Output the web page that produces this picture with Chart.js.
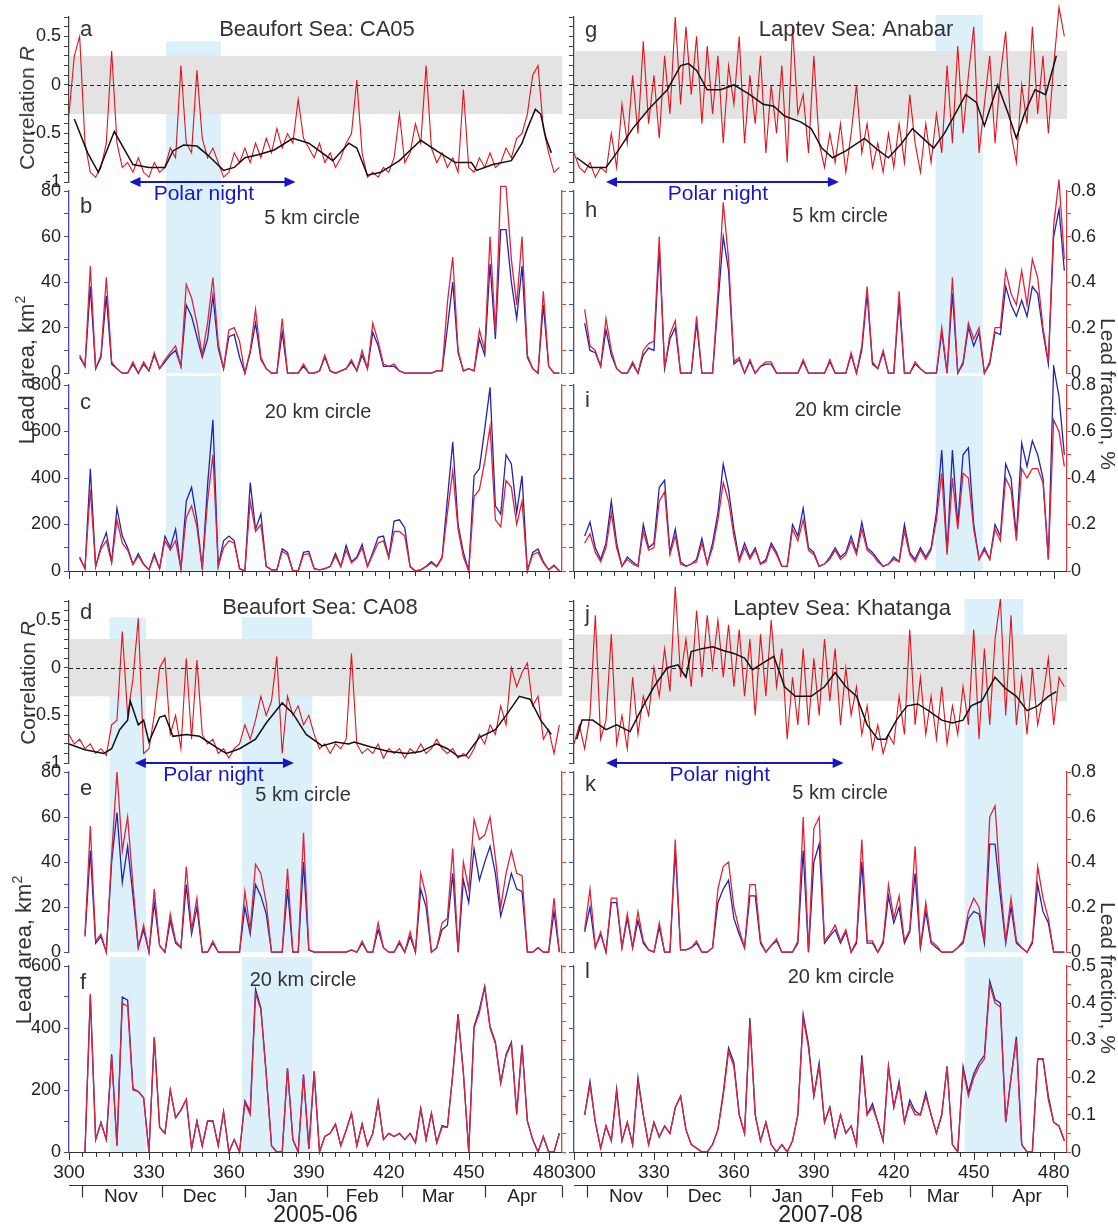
<!DOCTYPE html>
<html>
<head>
<meta charset="utf-8">
<script src="https://cdn.jsdelivr.net/npm/chart.js@4.4.1/dist/chart.umd.min.js"></script>
<style>
  body { margin: 0; background: #fff; width: 1118px; height: 1226px; position: relative; overflow: hidden;
         font-family: 'Liberation Sans', Arial, sans-serif; }
  canvas { position: absolute; }
  .vt, .vr { position: absolute; white-space: nowrap; color: #333; z-index: 5; }
  .vt { transform: translate(-50%, -50%) rotate(-90deg); }
  .vr { transform: translate(-50%, -50%) rotate(90deg); }
  .vt sup { font-size: 14px; }
</style>
</head>
<body>
<div class="vt" style="left:27px;top:108px;font-size:21px">Correlation <i>R</i></div>
<div class="vt" style="left:28px;top:683px;font-size:21px">Correlation <i>R</i></div>
<div class="vt" style="left:26px;top:370px;font-size:22px">Lead area, km<sup>2</sup></div>
<div class="vt" style="left:23px;top:950px;font-size:22px">Lead area, km<sup>2</sup></div>
<div class="vr" style="left:1108px;top:394px;font-size:21px">Lead fraction, %</div>
<div class="vr" style="left:1108px;top:978px;font-size:21px">Lead fraction, %</div>
<script>
const FONT = "'Liberation Sans', Arial, sans-serif";
Chart.defaults.font.family = FONT;

// day of year counted from 1 Jan of the first year, every 2nd day
const days = Array.from({length: 93}, (_, i) => 300 + 2 * i);

// ---- Beaufort Sea CA05 ----
const aCorr = [
  -0.3, 0.3, 0.5, -0.6, -0.9, -0.95, -0.85, -0.6, 0.35, -0.6,
  -0.85, -0.8, -0.9, -0.75, -0.9, -0.95, -0.8, -0.9, -0.85, -0.65,
  -0.75, 0.2, -0.6, -0.7, 0.15, -0.55, -0.75, -0.65, -0.8, -0.95,
  -0.9, -0.7, -0.8, -0.65, -0.8, -0.6, -0.75, -0.55, -0.7, -0.45,
  -0.65, -0.5, -0.6, -0.15, -0.55, -0.65, -0.75, -0.6, -0.8, -0.7,
  -0.85, -0.75, -0.6, -0.5, 0.05, -0.7, -0.95, -0.9, -0.95, -0.85,
  -0.9, -0.75, -0.3, -0.8, -0.7, -0.4, -0.6, 0.2, -0.65, -0.8,
  -0.7, -0.85, -0.75, -0.9, -0.05, -0.85, -0.9, -0.75, -0.85, -0.7,
  -0.85, -0.8, -0.65, -0.75, -0.55, -0.5, -0.3, 0.1, 0.2, -0.45,
  -0.7, -0.9, -0.85];
const aSmoothDays = [302, 307, 311, 317, 324, 330, 336, 339, 343, 348,
  352, 358, 362, 366, 371, 377, 384, 390, 395, 399,
  405, 408, 412, 417, 424, 432, 438, 445, 451, 453,
  459, 466, 470, 472, 475, 477, 479, 481];
const aSmooth = [-0.35, -0.7, -0.9, -0.48, -0.82, -0.85, -0.85, -0.68, -0.62, -0.63,
  -0.72, -0.88, -0.85, -0.75, -0.72, -0.67, -0.55, -0.6, -0.7, -0.78,
  -0.6, -0.65, -0.93, -0.9, -0.78, -0.57, -0.68, -0.8, -0.8, -0.88,
  -0.82, -0.78, -0.6, -0.45, -0.25, -0.3, -0.55, -0.7];
const bRed = [
  null, null, 8, 3, 47, 2, 8, 42, 5, 2,
  0, 0, 5, 0, 5, 1, 9, 2, 6, 9,
  12, 3, 39, 33, 22, 8, 22, 42, 13, 2,
  19, 20, 14, 0, 10, 28, 7, 2, 0, 0,
  24, 0, 0, 0, 4, 0, 0, 1, 8, 1,
  0, 1, 2, 6, 1, 10, 2, 22, 14, 4,
  3, 4, 1, 0, 0, 0, 0, 0, 0, 1,
  1, 31, 51, 10, 1, 2, 1, 19, 10, 60,
  18, 82, 82, 50, 30, 60, 8, 2, 0, 36,
  3, 0, 0];
const bBlue = [
  null, null, 7, 3, 38, 2, 7, 34, 4, 2,
  0, 0, 4, 0, 4, 1, 8, 2, 5, 8,
  10, 3, 30, 25, 16, 7, 15, 34, 11, 2,
  16, 17, 7, 0, 9, 22, 6, 2, 0, 0,
  18, 0, 0, 0, 3, 0, 0, 1, 7, 1,
  0, 1, 2, 5, 1, 8, 2, 18, 12, 3,
  3, 3, 1, 0, 0, 0, 0, 0, 0, 1,
  1, 20, 40, 9, 1, 2, 1, 15, 8, 48,
  15, 63, 63, 40, 24, 47, 7, 2, 0, 30,
  3, 0, 0];
const cRed = [
  null, null, 55, 10, 350, 18, 95, 130, 35, 220,
  120, 90, 28, 65, 28, 5, 65, 10, 130, 90,
  130, 10, 230, 280, 190, 10, 300, 500, 20, 100,
  130, 120, 10, 0, 300, 170, 200, 20, 5, 5,
  85, 70, 0, 0, 70, 75, 10, 5, 10, 18,
  65, 18, 90, 35, 55, 100, 18, 70, 120, 130,
  55, 170, 170, 150, 18, 0, 5, 18, 35, 18,
  55, 250, 430, 180, 60, 0, 320, 350, 470, 620,
  220, 190, 390, 360, 200, 300, 0, 70, 80, 35,
  5, 22, 0];
const cBlue = [
  null, null, 60, 10, 440, 20, 105, 165, 40, 270,
  150, 100, 30, 75, 30, 5, 75, 10, 150, 100,
  180, 10, 300, 360, 220, 10, 370, 650, 20, 130,
  150, 130, 10, 0, 380, 180, 245, 20, 5, 5,
  95, 80, 0, 0, 80, 85, 10, 5, 10, 20,
  75, 20, 110, 40, 60, 115, 20, 80, 145, 150,
  60, 215, 220, 185, 20, 0, 5, 20, 40, 20,
  60, 310, 555, 200, 80, 0, 410, 440, 610, 790,
  280, 245, 500, 460, 250, 410, 0, 80, 95, 40,
  5, 25, 0];

// ---- Beaufort Sea CA08 ----
const dCorr = [
  -0.7, -0.8, -0.75, -0.85, -0.8, -0.9, -0.85, -0.92, -0.6, -0.55,
  0.38, -0.5, -0.12, 0.52, -0.9, -0.85, -0.5, 0.0, 0.1, -0.7,
  -0.5, -0.85, 0.1, -0.75, 0.08, -0.7, -0.8, -0.75, -0.9, -0.85,
  -0.95, -0.85, -0.8, -0.6, -0.75, -0.55, -0.3, -0.5, -0.35, 0.12,
  -0.9, -0.3, -0.5, -0.4, -0.6, -0.5, -0.7, -0.85, -0.8, -0.9,
  -0.8, -0.85, -0.75, 0.15, -0.8, -0.9, -0.85, -0.9, -0.8, -0.95,
  -0.85, -0.9, -0.85, -0.95, -0.85, -0.9, -0.8, -0.9, -0.85, -0.75,
  -0.85, -0.9, -0.85, -0.95, -0.9, -0.95, -0.85, -0.7, -0.8, -0.6,
  -0.7, -0.4, -0.6, 0.0, -0.2, -0.05, 0.05, -0.4, -0.3, -0.75,
  -0.65, -0.9, -0.6];
const dSmoothDays = [300, 306, 313, 316, 319, 322, 323, 326, 328, 330,
  334, 336, 339, 344, 349, 355, 359, 364, 370, 374,
  380, 384, 389, 395, 400, 405, 407, 413, 420, 427,
  432, 438, 442, 446, 449, 454, 460, 464, 469, 473,
  477, 481];
const dSmooth = [-0.8, -0.86, -0.9, -0.85, -0.65, -0.55, -0.35, -0.6, -0.55, -0.78,
  -0.52, -0.5, -0.72, -0.7, -0.72, -0.83, -0.9, -0.85, -0.75, -0.58,
  -0.37, -0.48, -0.7, -0.82, -0.78, -0.8, -0.78, -0.83, -0.88, -0.9,
  -0.88, -0.8, -0.85, -0.93, -0.92, -0.73, -0.65, -0.5, -0.3, -0.33,
  -0.55, -0.7];
const eRed = [
  null, null, null, 8, 56, 5, 8, 0, 43, 80,
  45, 60, 30, 2, 12, 0, 28, 3, 0, 17,
  5, 2, 38, 10, 24, 0, 0, 5, 0, 0,
  0, 0, 0, 27, 10, 39, 35, 22, 0, 0,
  0, 37, 0, 0, 53, 1, 0, 0, 0, 0,
  0, 0, 0, 1, 0, 5, 0, 0, 13, 2,
  0, 0, 5, 0, 9, 0, 35, 25, 0, 2,
  13, 15, 46, 0, 40, 28, 59, 50, 52, 60,
  42, 20, 35, 45, 35, 34, 0, 0, 2, 0,
  0, 24, 0];
const eBlue = [
  null, null, null, 7, 45, 4, 7, 0, 40, 62,
  31, 47, 25, 2, 10, 0, 22, 3, 0, 14,
  4, 2, 30, 8, 20, 0, 0, 4, 0, 0,
  0, 0, 0, 20, 8, 30, 25, 17, 0, 0,
  0, 28, 0, 0, 40, 1, 0, 0, 0, 0,
  0, 0, 0, 1, 0, 4, 0, 0, 10, 2,
  0, 0, 4, 0, 7, 0, 28, 20, 0, 2,
  10, 12, 35, 0, 32, 22, 46, 32, 40, 47,
  35, 16, 25, 35, 28, 27, 0, 0, 2, 0,
  0, 18, 0];
const fRed = [
  null, null, null, 0, 510, 40, 95, 40, 310, 20,
  480, 470, 200, 195, 175, 0, 370, 80, 60, 200,
  110, 135, 170, 10, 100, 20, 100, 100, 20, 130,
  0, 40, 0, 160, 120, 510, 460, 250, 20, 0,
  0, 270, 40, 0, 245, 10, 260, 0, 50, 60,
  90, 20, 70, 125, 20, 90, 20, 60, 160, 40,
  60, 50, 60, 40, 60, 30, 140, 40, 125, 30,
  80, 80, 250, 440, 255, 0, 400, 450, 530, 400,
  350, 220, 310, 350, 120, 340, 100, 40, 0, 50,
  0, 0, 60];
const fBlue = [
  null, null, null, 0, 505, 40, 95, 40, 315, 20,
  500, 490, 205, 195, 175, 0, 370, 80, 60, 200,
  110, 135, 170, 10, 100, 20, 100, 100, 20, 130,
  0, 40, 0, 165, 130, 525, 465, 255, 20, 0,
  0, 270, 40, 0, 250, 10, 260, 0, 50, 60,
  90, 20, 70, 125, 20, 90, 20, 60, 165, 40,
  60, 50, 60, 40, 60, 30, 140, 40, 125, 30,
  85, 80, 250, 445, 255, 0, 405, 460, 535, 405,
  355, 225, 315, 355, 125, 345, 100, 40, 0, 50,
  0, 0, 60];

// ---- Laptev Sea Anabar ----
const gCorr = [
  -0.7, -0.85, -0.9, -0.8, -0.95, -0.85, -0.9, -0.5, -0.85, -0.2,
  -0.6, 0.1, -0.5, 0.45, -0.4, 0.1, -0.55, 0.3, -0.3, 0.7,
  -0.2, 0.6, -0.1, 0.5, -0.4, 0.4, -0.3, 0.3, -0.6, 0.2,
  -0.2, 0.5, -0.6, 0.1, -0.4, 0.3, -0.7, 0.0, -0.5, 0.2,
  -0.8, 0.6, -0.3, -0.1, -0.7, 0.3, -0.6, -0.85, -0.5, -0.8,
  -0.4, -0.9, -0.5, 0.0, -0.7, -0.4, -0.85, -0.6, -0.9, -0.5,
  -0.85, -0.4, -0.8, -0.1, -0.6, -0.9, -0.4, -0.8, -0.3, -0.7,
  0.2, -0.6, 0.4, -0.5, 0.1, 0.6, -0.7, -0.2, 0.3, -0.6,
  0.1, 0.55, -0.5, -0.8, 0.0, -0.4, 0.6, -0.3, 0.3, -0.5,
  0.2, 0.8, 0.5];
const gSmoothDays = [301, 306, 312, 316, 322, 328, 335, 340, 343, 346,
  350, 355, 360, 366, 371, 375, 379, 385, 389, 393,
  397, 402, 409, 414, 418, 423, 427, 431, 435, 439,
  443, 447, 451, 454, 459, 463, 466, 469, 473, 477,
  481];
const gSmooth = [-0.75, -0.85, -0.85, -0.7, -0.45, -0.25, -0.05, 0.2, 0.22, 0.15,
  -0.05, -0.05, 0.0, -0.1, -0.2, -0.22, -0.32, -0.38, -0.45, -0.65,
  -0.75, -0.68, -0.55, -0.67, -0.75, -0.6, -0.45, -0.55, -0.65, -0.5,
  -0.3, -0.1, -0.18, -0.42, 0.0, -0.3, -0.55, -0.3, -0.05, -0.1,
  0.3];
// lead fraction, %
const hRed = [
  null, null, 0.28, 0.12, 0.1, 0.03, 0.24, 0.1, 0.02, 0,
  0, 0.05, 0, 0.1, 0.13, 0.14, 0.6, 0.02, 0.17, 0.23,
  0, 0, 0, 0.25, 0, 0, 0, 0.35, 0.75, 0.5,
  0.05, 0.07, 0, 0.06, 0, 0.03, 0.05, 0.05, 0, 0,
  0, 0, 0, 0.06, 0, 0, 0, 0, 0.06, 0,
  0, 0, 0.09, 0, 0.12, 0.38, 0.05, 0.02, 0.1, 0,
  0, 0.36, 0, 0, 0.05, 0.02, 0, 0, 0, 0.2,
  0, 0.42, 0, 0.05, 0.22, 0.15, 0.2, 0, 0.05, 0.2,
  0.2, 0.45, 0.35, 0.3, 0.45, 0.3, 0.5, 0.42, 0.2, 0.05,
  0.65, 0.85, 0.5];
const hBlue = [
  null, null, 0.22, 0.1, 0.09, 0.03, 0.19, 0.08, 0.02, 0,
  0, 0.04, 0, 0.08, 0.11, 0.1, 0.55, 0.02, 0.15, 0.2,
  0, 0, 0, 0.22, 0, 0, 0, 0.3, 0.6, 0.45,
  0.04, 0.06, 0, 0.05, 0, 0.03, 0.04, 0.04, 0, 0,
  0, 0, 0, 0.05, 0, 0, 0, 0, 0.05, 0,
  0, 0, 0.08, 0, 0.1, 0.35, 0.04, 0.02, 0.09, 0,
  0, 0.32, 0, 0, 0.04, 0.02, 0, 0, 0, 0.18,
  0, 0.35, 0, 0.04, 0.2, 0.12, 0.18, 0, 0.04, 0.18,
  0.17, 0.38, 0.3, 0.25, 0.32, 0.25, 0.38, 0.35, 0.18, 0.04,
  0.6, 0.72, 0.45];
const iRed = [
  null, null, 0.12, 0.16, 0.08, 0.04, 0.1, 0.25, 0.1, 0.02,
  0.05, 0.03, 0.02, 0.17, 0.09, 0.1, 0.3, 0.34, 0.07, 0.15,
  0.03, 0.02, 0.03, 0.04, 0.12, 0.03, 0.1, 0.22, 0.38, 0.3,
  0.15, 0.04, 0.1, 0.05, 0.09, 0.03, 0.04, 0.11, 0.07, 0.02,
  0.02, 0.18, 0.13, 0.22, 0.09, 0.07, 0.02, 0.03, 0.05, 0.09,
  0.05, 0.07, 0.13, 0.07, 0.18, 0.09, 0.07, 0.04, 0.02, 0.03,
  0.05, 0.04, 0.17, 0.07, 0.04, 0.09, 0.05, 0.09, 0.22, 0.42,
  0.07, 0.4, 0.18, 0.42, 0.4, 0.18, 0.05, 0.09, 0.05, 0.18,
  0.13, 0.4, 0.35, 0.13, 0.44, 0.4, 0.44, 0.44, 0.38, 0.05,
  0.65, 0.6, 0.45];
const iBlue = [
  null, null, 0.15, 0.21, 0.1, 0.05, 0.12, 0.3, 0.12, 0.02,
  0.06, 0.04, 0.02, 0.2, 0.1, 0.12, 0.36, 0.39, 0.08, 0.18,
  0.04, 0.02, 0.03, 0.05, 0.14, 0.03, 0.12, 0.25, 0.46, 0.35,
  0.18, 0.05, 0.12, 0.06, 0.1, 0.03, 0.05, 0.12, 0.08, 0.02,
  0.02, 0.2, 0.15, 0.27, 0.1, 0.08, 0.02, 0.03, 0.06, 0.1,
  0.06, 0.08, 0.15, 0.08, 0.21, 0.1, 0.08, 0.05, 0.02, 0.03,
  0.06, 0.04, 0.2, 0.08, 0.05, 0.1, 0.06, 0.1, 0.25, 0.52,
  0.08, 0.52, 0.2, 0.5, 0.53, 0.2, 0.05, 0.1, 0.05, 0.2,
  0.15, 0.46, 0.4, 0.15, 0.55, 0.45, 0.56, 0.5, 0.4, 0.05,
  0.88, 0.75, 0.5];

// ---- Laptev Sea Khatanga ----
const jCorr = [
  -0.8, -0.6, -0.85, -0.5, 0.55, -0.75, -0.55, 0.35, -0.8, -0.5,
  -0.85, -0.1, -0.7, -0.3, -0.5, 0.0, -0.3, 0.2, -0.25, 0.85,
  -0.1, 0.3, -0.2, 0.6, -0.1, 0.55, 0.0, 0.5, -0.1, 0.45,
  -0.2, 0.4, -0.3, 0.3, -0.5, 0.35, -0.3, 0.5, -0.2, 0.2,
  -0.75, -0.1, -0.6, 0.2, -0.6, 0.1, -0.5, 0.3, -0.35, 0.2,
  -0.6, 0.0, -0.5, -0.2, -0.7, -0.4, -0.85, -0.6, -0.9, -0.7,
  -0.8, -0.3, -0.7, 0.4, -0.6, -0.1, -0.7, -0.3, -0.75, -0.2,
  -0.8, -0.4, -0.7, -0.2, -0.6, 0.4, -0.75, 0.2, -0.6, 0.3,
  0.72, -0.5, 0.55, -0.6, -0.1, -0.7, 0.0, -0.6, -0.3, 0.1,
  -0.6, -0.1, -0.2];
const jSmoothDays = [301, 303, 307, 312, 316, 321, 326, 330, 335, 339,
  342, 344, 348, 352, 356, 360, 364, 367, 371, 375,
  379, 383, 389, 394, 398, 402, 406, 410, 414, 417,
  421, 425, 429, 433, 438, 442, 446, 449, 453, 458,
  462, 466, 470, 474, 478, 481];
const jSmooth = [-0.75, -0.55, -0.55, -0.65, -0.6, -0.67, -0.4, -0.2, 0.0, 0.03,
  -0.1, 0.17, 0.2, 0.22, 0.18, 0.15, 0.1, -0.02, 0.05, 0.12,
  -0.2, -0.3, -0.3, -0.2, -0.05, -0.2, -0.3, -0.6, -0.75, -0.75,
  -0.55, -0.4, -0.38, -0.45, -0.55, -0.58, -0.55, -0.4, -0.35, -0.1,
  -0.22, -0.3, -0.45, -0.4, -0.3, -0.25];
const kRed = [
  null, null, 0.1, 0.28, 0.02, 0.09, 0.0, 0.24, 0.24, 0.02,
  0.17, 0.02, 0.18, 0.05, 0.01, 0.0, 0.13, 0.0, 0.0, 0.5,
  0.01, 0.01, 0.02, 0.05, 0.0, 0.0, 0.02, 0.28, 0.38, 0.4,
  0.2, 0.1, 0.02, 0.3, 0.3, 0.05, 0.0, 0.03, 0.06, 0.0,
  0.0, 0.0, 0.05, 0.6, 0.0, 0.55, 0.6, 0.05, 0.08, 0.12,
  0.05, 0.1, 0.0, 0.05, 0.5, 0.05, 0.05, 0.0, 0.05, 0.3,
  0.15, 0.25, 0.05, 0.1, 0.47, 0.02, 0.22, 0.05, 0.03, 0.0,
  0.0, 0.0, 0.02, 0.05, 0.18, 0.24, 0.2, 0.05, 0.6, 0.65,
  0.3, 0.05, 0.24, 0.05, 0.02, 0.0, 0.05, 0.38, 0.24, 0.15,
  0.0, 0.0, 0.0];
const kBlue = [
  null, null, 0.09, 0.2, 0.02, 0.08, 0.0, 0.22, 0.22, 0.02,
  0.15, 0.02, 0.14, 0.04, 0.01, 0.0, 0.11, 0.0, 0.0, 0.45,
  0.01, 0.01, 0.02, 0.04, 0.0, 0.0, 0.02, 0.22, 0.28, 0.32,
  0.15, 0.08, 0.02, 0.25, 0.25, 0.04, 0.0, 0.03, 0.05, 0.0,
  0.0, 0.0, 0.04, 0.45, 0.0, 0.4, 0.48, 0.04, 0.07, 0.1,
  0.04, 0.09, 0.0, 0.04, 0.4, 0.04, 0.04, 0.0, 0.04, 0.25,
  0.13, 0.2, 0.04, 0.09, 0.35, 0.02, 0.18, 0.04, 0.02, 0.0,
  0.0, 0.0, 0.02, 0.04, 0.15, 0.18, 0.17, 0.04, 0.48, 0.48,
  0.25, 0.04, 0.2, 0.04, 0.02, 0.0, 0.04, 0.3, 0.18, 0.13,
  0.0, 0.0, 0.0];
const lRed = [
  null, null, 0.1, 0.18, 0.08, 0.01, 0.07, 0.03, 0.16, 0.03,
  0.08, 0.02, 0.19, 0.1, 0.02, 0.08, 0.04, 0.07, 0.05, 0.12,
  0.15, 0.06, 0.02, 0.01, 0.0, 0.0, 0.02, 0.06, 0.15, 0.27,
  0.23, 0.1, 0.05, 0.35, 0.1, 0.03, 0.08, 0.02, 0.0, 0.02,
  0.0, 0.03, 0.1, 0.36, 0.28, 0.15, 0.23, 0.08, 0.12, 0.04,
  0.1, 0.05, 0.07, 0.02, 0.25, 0.1, 0.12, 0.08, 0.03, 0.23,
  0.12, 0.18, 0.08, 0.13, 0.1, 0.1, 0.15, 0.1, 0.05, 0.1,
  0.23, 0.02, 0.0, 0.22, 0.15, 0.2, 0.23, 0.25, 0.45, 0.4,
  0.39, 0.08, 0.2, 0.3, 0.02, 0.0, 0.0, 0.25, 0.25, 0.14,
  0.08, 0.07, 0.03];
const lBlue = [
  null, null, 0.1, 0.19, 0.08, 0.01, 0.07, 0.03, 0.17, 0.03,
  0.08, 0.02, 0.2, 0.1, 0.02, 0.08, 0.04, 0.07, 0.05, 0.12,
  0.15, 0.06, 0.02, 0.01, 0.0, 0.0, 0.02, 0.06, 0.16, 0.28,
  0.24, 0.1, 0.05, 0.36, 0.1, 0.03, 0.08, 0.02, 0.0, 0.02,
  0.0, 0.03, 0.1, 0.37, 0.29, 0.15, 0.24, 0.08, 0.12, 0.04,
  0.1, 0.05, 0.07, 0.02, 0.26, 0.1, 0.13, 0.08, 0.03, 0.23,
  0.12, 0.19, 0.08, 0.14, 0.11, 0.1, 0.16, 0.1, 0.05, 0.1,
  0.23, 0.02, 0.0, 0.23, 0.16, 0.21, 0.24, 0.26, 0.46, 0.41,
  0.4, 0.08, 0.2, 0.31, 0.02, 0.0, 0.0, 0.25, 0.25, 0.15,
  0.08, 0.07, 0.03];

// shaded periods (day ranges)
const bandsTL = [[336.4, 357]];
const bandsBL = [[315.2, 328.9], [364.9, 391.3]];
const bandsTR = [[435.7, 453.4]];
const bandsBR = [[446.6, 468.6]];

// axis labels
const xTickLabels = [300, 330, 360, 390, 420, 450, 480];
const monthNames = ['Nov', 'Dec', 'Jan', 'Feb', 'Mar', 'Apr'];
const monthStartsL = [305, 335, 366, 397, 425, 456];
const monthStartsR = [305, 335, 366, 397, 426, 457];
const monthLabelDays = [319.5, 349, 380, 410, 438.5, 470];

function pts(xs, ys) { return xs.map((x, i) => ({x: x, y: ys[i]})); }
function isMult(v, s) { return Math.abs(v / s - Math.round(v / s)) < 1e-6; }
function fmt(v) { return String(Math.round(v * 100) / 100); }

const panels = [
  {id: 'a', col: 'L', kind: 'corr', top: 17, bottom: 182, pb: 26, title: 'Beaufort Sea: CA05', tx: 248, ty: 19, ly: 19,
   corr: aCorr, sd: aSmoothDays, sv: aSmooth, gray: 0.3, bands: bandsTL, bandTop: 0.45, night: [322.7, 385, 350.6]},
  {id: 'b', col: 'L', kind: 'lead', top: 191, bottom: 375, pb: 12, title: '5 km circle', tx: 243, ty: 33, ly: 22,
   red: bRed, blue: bBlue, area: [80, 10, 20], frac: [0.8, 0.1, 0.2], bands: bandsTL},
  {id: 'c', col: 'L', kind: 'lead', top: 385, bottom: 571, pb: 16, title: '20 km circle', tx: 249, ty: 33, ly: 24,
   red: cRed, blue: cBlue, area: [800, 100, 200], frac: [0.8, 0.1, 0.2], bands: bandsTL, xticks: true},
  {id: 'd', col: 'L', kind: 'corr', top: 601, bottom: 763, pb: 26, title: 'Beaufort Sea: CA08', tx: 251, ty: 13, ly: 18,
   corr: dCorr, sd: dSmoothDays, sv: dSmooth, gray: 0.3, bands: bandsBL, bandTop: 0.53, night: [324.7, 384.4, 354.2]},
  {id: 'e', col: 'L', kind: 'lead', top: 772, bottom: 954, pb: 12, title: '5 km circle', tx: 234, ty: 29, ly: 23,
   red: eRed, blue: eBlue, area: [80, 10, 20], frac: [0.8, 0.1, 0.2], bands: bandsBL},
  {id: 'f', col: 'L', kind: 'lead', top: 966, bottom: 1152, pb: 74, title: '20 km circle', tx: 234, ty: 20, ly: 23,
   red: fRed, blue: fBlue, area: [600, 100, 200], frac: [0.5, 0.05, 0.1], bands: bandsBL, xticks: true, season: '2005-06'},
  {id: 'g', col: 'R', kind: 'corr', top: 17, bottom: 182, pb: 26, title: 'Laptev Sea: Anabar', tx: 282, ty: 19, ly: 20,
   corr: gCorr, sd: gSmoothDays, sv: gSmooth, gray: 0.35, bands: bandsTR, bandTop: null, night: [312, 399.4, 354]},
  {id: 'h', col: 'R', kind: 'lead', top: 191, bottom: 375, pb: 12, title: '5 km circle', tx: 266, ty: 31, ly: 26,
   red: hRed, blue: hBlue, area: [80, 10, 20], frac: [0.8, 0.1, 0.2], bands: bandsTR},
  {id: 'i', col: 'R', kind: 'lead', top: 385, bottom: 571, pb: 16, title: '20 km circle', tx: 274, ty: 31, ly: 22,
   red: iRed, blue: iBlue, area: [800, 100, 200], frac: [0.8, 0.1, 0.2], bands: bandsTR, xticks: true},
  {id: 'j', col: 'R', kind: 'corr', top: 601, bottom: 763, pb: 26, title: 'Laptev Sea: Khatanga', tx: 268, ty: 14, ly: 20,
   corr: jCorr, sd: jSmoothDays, sv: jSmooth, gray: 0.35, bands: bandsBR, bandTop: null, night: [312, 401.2, 354.7]},
  {id: 'k', col: 'R', kind: 'lead', top: 772, bottom: 954, pb: 12, title: '5 km circle', tx: 266, ty: 27, ly: 19,
   red: kRed, blue: kBlue, area: [80, 10, 20], frac: [0.8, 0.1, 0.2], bands: bandsBR},
  {id: 'l', col: 'R', kind: 'lead', top: 966, bottom: 1152, pb: 74, title: '20 km circle', tx: 267, ty: 17, ly: 12,
   red: lRed, blue: lBlue, area: [600, 100, 200], frac: [0.5, 0.05, 0.1], bands: bandsBR, xticks: true, season: '2007-08'}
];

function yAxis(position, min, max, step, labelStep, show, color, width) {
  const right = position === 'right';
  return {
    type: 'linear', position: position, min: min, max: max,
    afterFit: s => { s.width = width; },
    border: {display: true, color: color, width: 1.3},
    grid: {drawOnChartArea: false, drawTicks: true, tickLength: right ? 4 : 5, color: color, lineWidth: 1},
    ticks: {stepSize: step, autoSkip: false, padding: right ? 0 : 3, color: '#222', font: {size: 18},
            callback: v => (show && isMult(v, labelStep)) ? fmt(v) : ''}
  };
}

function deco(p) {
  return {
    id: 'deco',
    beforeDatasetsDraw(chart) {
      const {ctx, chartArea: ca, scales} = chart;
      const x = scales.x;
      ctx.save();
      ctx.fillStyle = '#dcf0fa';
      p.bands.forEach(b => {
        let yTop = ca.top - 9;
        if (p.kind === 'corr') yTop = p.bandTop == null ? ca.top - 2 : scales.yA.getPixelForValue(p.bandTop);
        const x0 = x.getPixelForValue(b[0]), x1 = x.getPixelForValue(b[1]);
        ctx.fillRect(x0, yTop, x1 - x0, ca.bottom - yTop);
      });
      if (p.kind === 'corr') {
        const y = scales.yA;
        const g0 = y.getPixelForValue(p.gray), g1 = y.getPixelForValue(-p.gray);
        ctx.fillStyle = '#e3e3e3';
        ctx.fillRect(ca.left + 1, g0, ca.right - ca.left - 1, g1 - g0);
        ctx.strokeStyle = '#222';
        ctx.lineWidth = 1;
        ctx.setLineDash([4, 3]);
        const yz = Math.round(y.getPixelForValue(0)) + 0.5;
        ctx.beginPath(); ctx.moveTo(ca.left, yz); ctx.lineTo(ca.right, yz); ctx.stroke();
      }
      ctx.restore();
    },
    afterDatasetsDraw(chart) {
      const {ctx, chartArea: ca, scales} = chart;
      const x = scales.x;
      ctx.save();
      ctx.fillStyle = '#333';
      ctx.textBaseline = 'alphabetic';
      ctx.textAlign = 'left';
      ctx.font = '22px ' + FONT;
      ctx.fillText(p.id, ca.left + 11, ca.top + p.ly);
      ctx.textAlign = 'center';
      ctx.font = (p.kind === 'corr' ? 22 : 20) + 'px ' + FONT;
      ctx.fillText(p.title, ca.left + p.tx, ca.top + p.ty);

      if (p.night) {
        const ya = ca.bottom;
        const xa = x.getPixelForValue(p.night[0]), xb = x.getPixelForValue(p.night[1]);
        ctx.strokeStyle = ctx.fillStyle = '#1616c6';
        ctx.lineWidth = 2;
        ctx.beginPath(); ctx.moveTo(xa + 8, ya); ctx.lineTo(xb - 8, ya); ctx.stroke();
        ctx.beginPath(); ctx.moveTo(xa, ya); ctx.lineTo(xa + 11, ya - 5); ctx.lineTo(xa + 11, ya + 5); ctx.closePath(); ctx.fill();
        ctx.beginPath(); ctx.moveTo(xb, ya); ctx.lineTo(xb - 11, ya - 5); ctx.lineTo(xb - 11, ya + 5); ctx.closePath(); ctx.fill();
        ctx.font = '21px ' + FONT;
        ctx.textBaseline = 'middle';
        ctx.fillText('Polar night', x.getPixelForValue(p.night[2]), ya + 12);
      }

      if (p.xticks) {
        ctx.strokeStyle = '#333';
        ctx.lineWidth = 1.2;
        ctx.beginPath(); ctx.moveTo(ca.left, ca.bottom + 0.5); ctx.lineTo(ca.right, ca.bottom + 0.5); ctx.stroke();
        ctx.lineWidth = 1;
        for (let d = 300; d <= 484; d += 5) {
          const xp = Math.round(x.getPixelForValue(d)) + 0.5;
          const len = (d - 300) % 30 === 0 ? 8 : 5;
          ctx.beginPath(); ctx.moveTo(xp, ca.bottom); ctx.lineTo(xp, ca.bottom + len); ctx.stroke();
        }
      }

      if (p.season) {
        ctx.fillStyle = '#222';
        ctx.textAlign = 'center';
        ctx.textBaseline = 'middle';
        ctx.font = '19px ' + FONT;
        xTickLabels.forEach(v => {
          const shift = (p.col === 'R' && v === 300) ? 6 : 0;
          ctx.fillText(String(v), x.getPixelForValue(v) + shift, ca.bottom + 21);
        });
        const ym = ca.bottom + 33.5;
        ctx.strokeStyle = '#333';
        ctx.lineWidth = 1.2;
        ctx.beginPath(); ctx.moveTo(ca.left, ym); ctx.lineTo(ca.right, ym); ctx.stroke();
        const starts = (p.col === 'L' ? monthStartsL : monthStartsR).concat([485]);
        starts.forEach(d => {
          const xp = Math.round(x.getPixelForValue(d)) + 0.5;
          ctx.beginPath(); ctx.moveTo(xp, ym); ctx.lineTo(xp, ym + 12); ctx.stroke();
        });
        monthNames.forEach((m, i) => ctx.fillText(m, x.getPixelForValue(monthLabelDays[i]), ym + 11));
        ctx.font = '23px ' + FONT;
        ctx.fillText(p.season, (ca.left + ca.right) / 2, ym + 30);
      }
      ctx.restore();
    }
  };
}

function makeChart(p) {
  const L = p.col === 'L';
  const pt = p.kind === 'corr' ? 16 : 20;
  const leftW = L ? 69 : 12, rightW = L ? 8 : 51;
  const x0 = L ? 0 : 562;
  const w = leftW + 493 + rightW;
  const h = pt + (p.bottom - p.top) + p.pb;
  const cv = document.createElement('canvas');
  cv.width = w; cv.height = h;
  cv.style.left = x0 + 'px';
  cv.style.top = (p.top - pt) + 'px';
  cv.style.width = w + 'px';
  cv.style.height = h + 'px';
  cv.style.zIndex = p.kind === 'corr' ? 2 : 1;
  document.body.appendChild(cv);

  const scales = {x: {type: 'linear', min: 300, max: 485, display: false}};
  let datasets;
  let padRight = 0;
  if (p.kind === 'corr') {
    scales.yA = yAxis('left', -1, 0.7, 0.1, 0.5, L, '#444', leftW);
    padRight = rightW;
    datasets = [
      {data: pts(p.sd, p.sv), borderColor: '#111', borderWidth: 1.5, yAxisID: 'yA'},
      {data: pts(days, p.corr), borderColor: '#e3121b', borderWidth: 1.1, yAxisID: 'yA'}
    ];
  } else {
    scales.yA = yAxis('left', 0, p.area[0], p.area[1], p.area[2], L, '#4848aa', leftW);
    scales.yF = yAxis('right', 0, p.frac[0], p.frac[1], p.frac[2], !L, '#d84040', rightW);
    const ax = L ? 'yA' : 'yF';
    datasets = [
      {data: pts(days, p.red), borderColor: '#de2438', borderWidth: 1.3, yAxisID: ax},
      {data: pts(days, p.blue), borderColor: '#2323b0', borderWidth: 1.3, yAxisID: ax}
    ];
  }
  datasets.forEach(ds => { ds.pointRadius = 0; ds.tension = 0; ds.clip = false; ds.fill = false; });

  new Chart(cv, {
    type: 'line',
    data: {datasets: datasets},
    options: {
      responsive: false, maintainAspectRatio: false, animation: false, devicePixelRatio: 1,
      events: [],
      layout: {padding: {top: pt, bottom: p.pb, left: 0, right: padRight}},
      plugins: {legend: {display: false}, tooltip: {enabled: false}},
      scales: scales
    },
    plugins: [deco(p)]
  });
}

panels.forEach(makeChart);
</script>
</body>
</html>
